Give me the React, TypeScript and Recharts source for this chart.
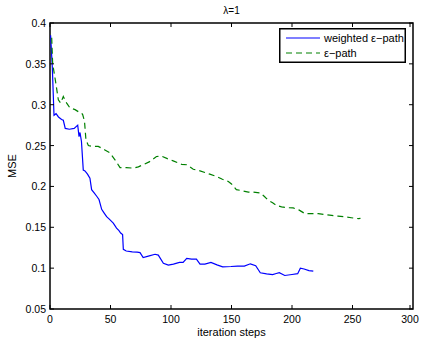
import { Legend, Line, LineChart, ReferenceArea, XAxis, YAxis } from 'recharts';

const FONT = '"Liberation Sans", Arial, Helvetica, sans-serif';
const BLUE = '#0000ff';
const GREEN = '#008000';

// plot box in px (chart is placed at page 0,0)
const PT = 23;
const PB = 309;
const PL = 50;
const PR = 413;

const xTicks = [0, 50, 100, 150, 200, 250, 300];
const yTicks = [0.05, 0.1, 0.15, 0.2, 0.25, 0.3, 0.35, 0.4];

const weightedSteps = [
  0.5, 1.9, 3.3, 5, 7, 9.6, 11, 12.6, 16, 20, 22.9, 24, 24.8, 26, 27.5, 28.9, 31, 33, 34.4, 36.5,
  38.6, 40.5, 42.7, 44.5, 46.8, 49, 52.3, 55, 57, 58.4, 60, 60.6, 63, 68, 72, 74.4, 77, 82, 86.8,
  89.5, 93.7, 97.8, 102, 107, 110, 113, 117, 121, 124, 128, 133, 138, 142.7, 149.6, 155, 160.6,
  165.6, 170, 173.8, 179, 184, 187, 189.5, 194, 200, 204.7, 206.9, 210, 214, 217.6,
];
const weightedMse = [
  0.385, 0.346, 0.287, 0.289, 0.285, 0.282, 0.281, 0.271, 0.27, 0.271, 0.275, 0.261, 0.266, 0.255,
  0.22, 0.219, 0.215, 0.21, 0.196, 0.192, 0.188, 0.184, 0.172, 0.168, 0.163, 0.16, 0.155, 0.149,
  0.146, 0.143, 0.141, 0.123, 0.121, 0.12, 0.1195, 0.119, 0.113, 0.115, 0.117, 0.116, 0.106, 0.1037,
  0.105, 0.107, 0.107, 0.112, 0.111, 0.111, 0.105, 0.105, 0.107, 0.104, 0.1016, 0.102, 0.1025,
  0.1024, 0.1053, 0.103, 0.0944, 0.093, 0.092, 0.0935, 0.0944, 0.091, 0.0922, 0.0932, 0.1, 0.099,
  0.097, 0.0963,
];

const epsSteps = [
  1.4, 2.2, 4, 6.9, 8.8, 11, 13.8, 16.5, 20.7, 23.4, 26, 27, 28.5, 29.7, 31.7, 35, 39.9, 45, 49.6,
  53.7, 57.9, 63, 68.9, 73, 77, 82, 88, 92.3, 97, 101.8, 108.8, 113, 118.4, 123, 128, 132, 137.7,
  142, 147.4, 150, 154, 158, 163.9, 168, 173.6, 177, 180.4, 184, 187.4, 191.4, 196, 201, 206,
  210.7, 216, 221.7, 227, 232.8, 238, 243.8, 249, 254.8, 256.6,
];
const epsMse = [
  0.382, 0.35, 0.334, 0.306, 0.302, 0.31, 0.302, 0.296, 0.294, 0.2915, 0.29, 0.288, 0.28, 0.257,
  0.25, 0.249, 0.249, 0.245, 0.241, 0.2326, 0.223, 0.223, 0.2224, 0.224, 0.2265, 0.23, 0.2366,
  0.237, 0.234, 0.2313, 0.227, 0.2265, 0.221, 0.2195, 0.217, 0.215, 0.2122, 0.209, 0.206, 0.203,
  0.196, 0.195, 0.193, 0.193, 0.192, 0.188, 0.183, 0.18, 0.1765, 0.175, 0.174, 0.1737, 0.171,
  0.1667, 0.1667, 0.1667, 0.1656, 0.1646, 0.1637, 0.1627, 0.1617, 0.1606, 0.161,
];

const weightedData = weightedSteps.map((x, i) => ({ x, y: weightedMse[i] }));
const epsData = epsSteps.map((x, i) => ({ x, y: epsMse[i] }));

function XTick({ x, payload }: any) {
  return (
    <g>
      <line x1={x} y1={PB} x2={x} y2={PB - 4} stroke="#000" />
      <line x1={x} y1={PT} x2={x} y2={PT + 4} stroke="#000" />
      <text x={x} y={PB + 14} textAnchor="middle" fontSize={10.5} fontFamily={FONT} fill="#000">
        {payload.value}
      </text>
    </g>
  );
}

function YTick({ y, payload }: any) {
  return (
    <g>
      <line x1={PL} y1={y} x2={PL + 4} y2={y} stroke="#000" />
      <line x1={PR} y1={y} x2={PR - 4} y2={y} stroke="#000" />
      <text x={PL - 4} y={y + 4} textAnchor="end" fontSize={10.5} fontFamily={FONT} fill="#000">
        {String(payload.value)}
      </text>
    </g>
  );
}

function LegendBox() {
  return (
    <svg width={127} height={35} style={{ display: 'block' }}>
      <rect x={0.75} y={0.75} width={125.5} height={33.5} fill="#fff" stroke="#000" strokeWidth={1.5} />
      <line x1={7} y1={10} x2={41} y2={10} stroke={BLUE} strokeWidth={1.2} />
      <text x={45} y={14} fontSize={11} fontFamily={FONT} fill="#000">
        weighted ε−path
      </text>
      <line x1={7} y1={25} x2={41} y2={25} stroke={GREEN} strokeWidth={1.2} strokeDasharray="6 4" />
      <text x={45} y={29} fontSize={11} fontFamily={FONT} fill="#000">
        ε−path
      </text>
    </svg>
  );
}

export default function App() {
  return (
    <div style={{ position: 'absolute', left: 0, top: 0, width: 422, height: 341, background: '#fff' }}>
      <LineChart width={422} height={341} margin={{ top: PT, right: 422 - PR, left: 0, bottom: 0 }}>
        <XAxis
          type="number"
          dataKey="x"
          domain={[0, 300]}
          ticks={xTicks}
          allowDataOverflow
          tickLine={false}
          axisLine={false}
          height={341 - PB}
          tick={<XTick />}
        />
        <YAxis
          type="number"
          dataKey="y"
          domain={[0.05, 0.4]}
          ticks={yTicks}
          allowDataOverflow
          tickLine={false}
          axisLine={false}
          width={PL}
          tick={<YTick />}
        />
        <ReferenceArea x1={0} x2={300} y1={0.05} y2={0.4} fill="none" stroke="#000" strokeWidth={1.5} />
        <Line
          data={weightedData}
          dataKey="y"
          type="linear"
          stroke={BLUE}
          strokeWidth={1.2}
          dot={false}
          isAnimationActive={false}
        />
        <Line
          data={epsData}
          dataKey="y"
          type="linear"
          stroke={GREEN}
          strokeWidth={1.2}
          strokeDasharray="6 4"
          dot={false}
          isAnimationActive={false}
        />
        <Legend
          layout="horizontal"
          verticalAlign="middle"
          align="center"
          content={<LegendBox />}
          wrapperStyle={{ left: 279, top: 28, width: 127, height: 35 }}
        />
        <text x={(PL + PR) / 2} y={14} textAnchor="middle" fontSize={10} fontFamily={FONT} fill="#000">
          λ=1
        </text>
        <text x={(PL + PR) / 2} y={336} textAnchor="middle" fontSize={11} fontFamily={FONT} fill="#000">
          iteration steps
        </text>
        <text
          x={16}
          y={(PT + PB) / 2}
          textAnchor="middle"
          fontSize={11}
          fontFamily={FONT}
          fill="#000"
          transform={`rotate(-90 16 ${(PT + PB) / 2})`}
        >
          MSE
        </text>
      </LineChart>
    </div>
  );
}
